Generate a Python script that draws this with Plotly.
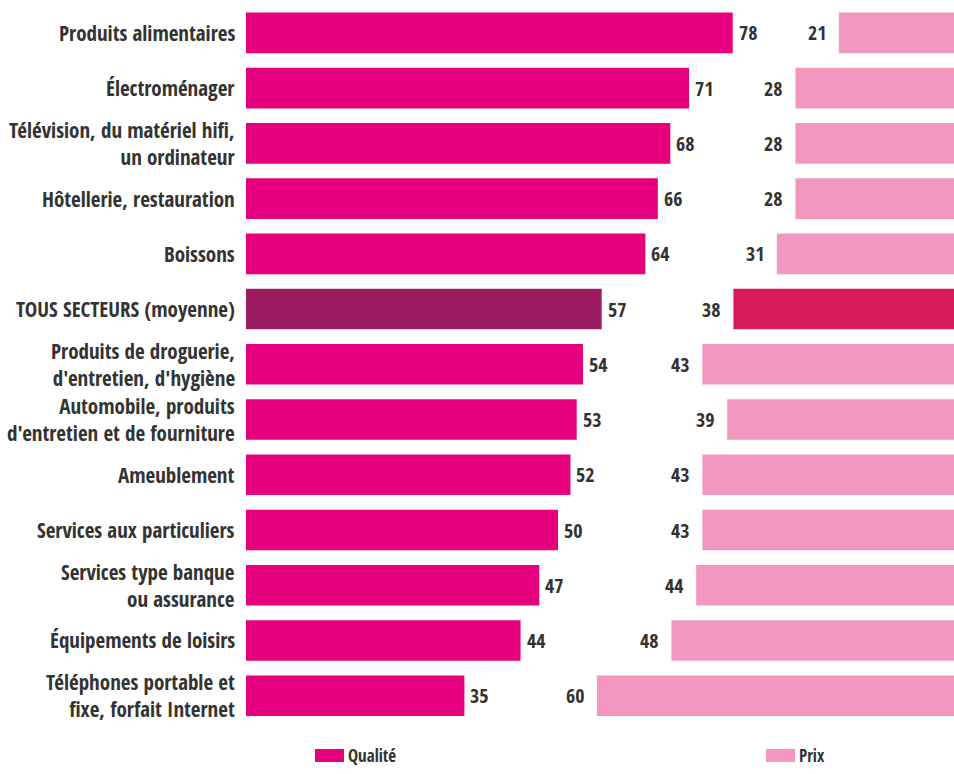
import plotly.graph_objects as go

# Secteurs (lines separated by "\n")
categories = [
    "Produits alimentaires",
    "Électroménager",
    "Télévision, du matériel hifi,\nun ordinateur",
    "Hôtellerie, restauration",
    "Boissons",
    "TOUS SECTEURS (moyenne)",
    "Produits de droguerie,\nd'entretien, d'hygiène",
    "Automobile, produits\nd'entretien et de fourniture",
    "Ameublement",
    "Services aux particuliers",
    "Services type banque\nou assurance",
    "Équipements de loisirs",
    "Téléphones portable et\nfixe, forfait Internet",
]
qualite = [78, 71, 68, 66, 64, 57, 54, 53, 52, 50, 47, 44, 35]
prix = [21, 28, 28, 28, 31, 38, 43, 39, 43, 43, 44, 48, 60]
average_label = "TOUS SECTEURS (moyenne)"

FONT = "Open Sans Condensed, Roboto Condensed, sans-serif"
TEXT = "#333333"
C_QUAL, C_QUAL_AVG = "#E6007E", "#9C1D5F"
C_PRIX, C_PRIX_AVG = "#F297C0", "#D91B5B"

W, H = 954, 774
keys = [c.replace("\n", " ") for c in categories]
qual_colors = [C_QUAL_AVG if k == average_label else C_QUAL for k in keys]
prix_colors = [C_PRIX_AVG if k == average_label else C_PRIX for k in keys]

fig = go.Figure()
fig.add_trace(go.Bar(y=keys, x=qualite, orientation="h", name="Qualité",
                     marker=dict(color=qual_colors, line=dict(width=0)),
                     xaxis="x", yaxis="y", showlegend=False))
fig.add_trace(go.Bar(y=keys, x=prix, orientation="h", name="Prix",
                     marker=dict(color=prix_colors, line=dict(width=0)),
                     xaxis="x2", yaxis="y", showlegend=False))

ann = []
# category labels, right-aligned against the start of the Qualité bars
for k, c in zip(keys, categories):
    ann.append(dict(xref="x", yref="y", x=0, y=k, text=c.replace("\n", "<br>"),
                    showarrow=False, xanchor="right", yanchor="middle", align="right",
                    xshift=-9, font=dict(family=FONT, size=21, color=TEXT)))
# value labels
for k, v in zip(keys, qualite):
    ann.append(dict(xref="x", yref="y", x=v, y=k, text=str(v), showarrow=False,
                    xanchor="left", yanchor="middle", xshift=4,
                    font=dict(family=FONT, size=20, color=TEXT)))
for k, v in zip(keys, prix):
    ann.append(dict(xref="x2", yref="y", x=v, y=k, text=str(v), showarrow=False,
                    xanchor="right", yanchor="middle", xshift=-10,
                    font=dict(family=FONT, size=20, color=TEXT)))

# legend
def px_x(p):
    return p / W

def px_y(p):
    return 1 - p / H

shapes = []
for name, color, x0 in [("Qualité", C_QUAL, 315), ("Prix", C_PRIX, 766)]:
    shapes.append(dict(type="rect", xref="paper", yref="paper",
                       x0=px_x(x0), x1=px_x(x0 + 29), y0=px_y(762), y1=px_y(749),
                       fillcolor=color, line=dict(width=0)))
    ann.append(dict(xref="paper", yref="paper", x=px_x(x0 + 31), y=px_y(755.5),
                    text=name, showarrow=False, xanchor="left", yanchor="middle",
                    font=dict(family=FONT, size=17, color=TEXT)))

x_left = 246
fig.update_layout(
    width=W, height=H,
    margin=dict(l=0, r=0, t=0, b=0),
    paper_bgcolor="white", plot_bgcolor="white",
    bargap=0.265,
    xaxis=dict(domain=[x_left / W, 1], range=[0, (W - x_left) / 6.24], visible=False),
    xaxis2=dict(domain=[x_left / W, 1], overlaying="x",
                range=[(969 - x_left) / 6.2, (969 - W) / 6.2], visible=False),
    yaxis=dict(domain=[1 - 725.2 / H, 1 - 5.3 / H], categoryorder="array",
               categoryarray=keys, autorange="reversed", visible=False),
    annotations=ann, shapes=shapes,
)

fig.write_html("out.html")
